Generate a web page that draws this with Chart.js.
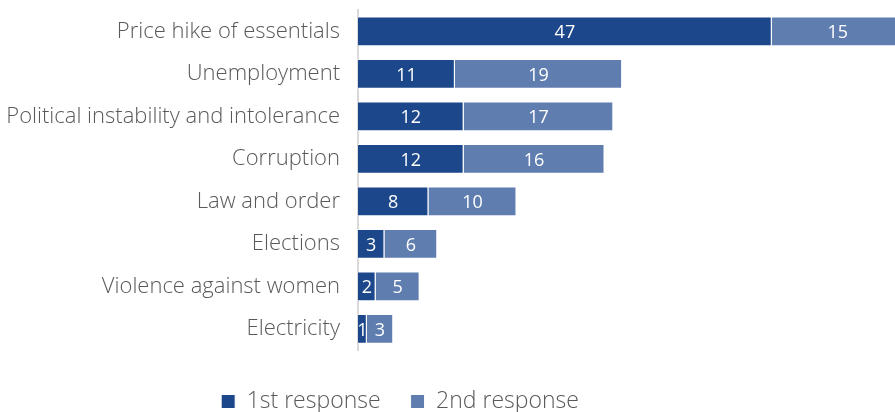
<!DOCTYPE html>
<html>
<head>
<meta charset="utf-8">
<script src="https://cdn.jsdelivr.net/npm/chart.js@4/dist/chart.umd.min.js"></script>
<style>
  html, body { margin: 0; padding: 0; background: #fff; }
  #wrap { width: 895px; height: 412px; }
</style>
</head>
<body>
<div id="wrap"><canvas id="issues"></canvas></div>
<script>
"use strict"

// categories (top to bottom)
const issues = [
    "Price hike of essentials",
    "Unemployment",
    "Political instability and intolerance",
    "Corruption",
    "Law and order",
    "Elections",
    "Violence against women",
    "Electricity"
];

const firstResponse = [47, 11, 12, 12, 8, 3, 2, 1];
const secondResponse = [15, 19, 17, 16, 10, 6, 5, 3];

const seriesNames = ["1st response", "2nd response"];

// white numbers in the middle of each segment
const segmentLabels = {
    id: "segmentLabels",
    afterDatasetsDraw(chart) {
        const ctx = chart.ctx;
        ctx.save();
        ctx.fillStyle = "#ffffff";
        ctx.font = "18px 'Open Sans', sans-serif";
        ctx.textAlign = "center";
        ctx.textBaseline = "middle";
        chart.data.datasets.forEach((ds, i) => {
            chart.getDatasetMeta(i).data.forEach((bar, j) => {
                ctx.fillText(ds.data[j], (bar.x + bar.base) / 2, bar.y + 2);
            });
        });
        ctx.restore();
    }
};

// nudge the legend a bit left and down
const legendShift = {
    id: "legendShift",
    afterLayout(chart) {
        chart.legend.left = 0;
        chart.legend.right = 800;
        chart.legend.top += 10;
    }
};

new Chart(document.getElementById("issues"), {
    type: "bar",
    data: {
        labels: issues,
        datasets: [{
            label: seriesNames[0],
            data: firstResponse,
            backgroundColor: "#1c478b",
            borderColor: "#ffffff",
            borderWidth: 1
        }, {
            label: seriesNames[1],
            data: secondResponse,
            backgroundColor: "#5f7daf",
            borderColor: "#ffffff",
            borderWidth: 1
        }]
    },
    options: {
        indexAxis: "y",
        responsive: true,
        maintainAspectRatio: false,
        animation: false,
        categoryPercentage: 1,
        barPercentage: 0.7,
        layout: { padding: { top: 10, right: 0 } },
        scales: {
            x: {
                stacked: true,
                display: false,
                min: 0,
                max: 61
            },
            y: {
                stacked: true,
                grid: { display: false, drawTicks: false },
                border: { display: true, color: "#d9d9d9", width: 2 },
                ticks: {
                    color: "#595959",
                    padding: 18,
                    font: { family: "'Open Sans'", size: 22, weight: 300 }
                },
                afterFit(scale) {
                    scale.width = 358;
                    scale.paddingTop = 0;
                    scale.paddingBottom = 0;
                }
            }
        },
        plugins: {
            legend: {
                position: "bottom",
                maxHeight: 62,
                labels: {
                    color: "#595959",
                    boxWidth: 14,
                    boxHeight: 14,
                    padding: 30,
                    font: { family: "'Open Sans'", size: 23, weight: 300 }
                }
            },
            tooltip: { enabled: false }
        }
    },
    plugins: [segmentLabels, legendShift]
});
</script>
</body>
</html>
